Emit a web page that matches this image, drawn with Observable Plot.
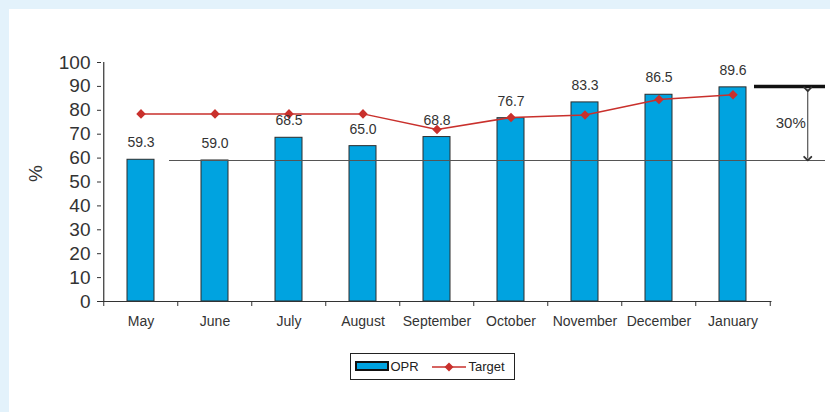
<!DOCTYPE html>
<html>
<head>
<meta charset="utf-8">
<script src="https://cdn.jsdelivr.net/npm/d3@7"></script>
<script src="https://cdn.jsdelivr.net/npm/@observablehq/plot@0.6"></script>
<style>
html, body { margin: 0; padding: 0; background: #e3f2fb; width: 830px; height: 412px; overflow: hidden; }
#panel { position: absolute; left: 9px; top: 9px; width: 821px; height: 403px; background: #fff;
  font-family: "Liberation Sans", Arial, Helvetica, sans-serif; color: #333; }
#chart svg { display: block; overflow: visible; }
#legend { position: absolute; left: 341px; top: 344px; width: 163px; height: 25px;
  border: 1.5px solid #222; font-size: 13px; color: #222; }
#legend .sw { position: absolute; left: 4px; top: 7px; width: 34px; height: 9.5px; box-sizing: border-box;
  border: 2px solid #111; background: #00a3e0; }
#legend .t { position: absolute; top: 0; line-height: 25px; }
#legend svg { position: absolute; left: 81px; top: 6.5px; }
</style>
</head>
<body>
<div id="panel">
  <div id="chart"></div>
  <div id="legend">
    <div class="sw"></div>
    <span class="t" style="left:39.5px">OPR</span>
    <svg width="34" height="12"><line x1="0" y1="6" x2="34" y2="6" stroke="#c9302c" stroke-width="1.5"/><path d="M17,1.5L21.5,6L17,10.5L12.5,6Z" fill="#c9302c"/></svg>
    <span class="t" style="left:117.5px">Target</span>
  </div>
</div>
<script>
const months = ["May", "June", "July", "August", "September", "October", "November", "December", "January"];
const opr = [59.3, 59.0, 68.5, 65.0, 68.8, 76.7, 83.3, 86.5, 89.6];
const target = [78.5, 78.5, 78.5, 78.5, 72.0, 77.0, 78.0, 84.5, 86.5];
const yTicks = [0, 10, 20, 30, 40, 50, 60, 70, 80, 90, 100];
const baselineLevel = 59;
const goalLevel = 90;
const gapLabel = "30%";
const yLabel = "%";

const data = months.map((m, i) => ({month: m, opr: opr[i], target: target[i]}));

const W = 821, H = 340, mL = 92, mR = 58.5;
const step = (W - mL - mR) / months.length;
const half = step / 2;
const lastMonth = months[months.length - 1];
const annX = 809 - 9 - (mL + step * (months.length - 0.5));

const red = "#c9302c";
const ink = "#333";

const chart = Plot.plot({
  width: W, height: H,
  marginLeft: mL, marginRight: mR, marginTop: 53, marginBottom: 48,
  style: {fontFamily: '"Liberation Sans", Arial, Helvetica, sans-serif', color: ink, background: "transparent", overflow: "visible"},
  x: {domain: months, paddingInner: 0.63, paddingOuter: 0.315},
  y: {domain: [0, 100]},
  marks: [
    Plot.barY(data, {x: "month", y: "opr", fill: "#00a3e0", stroke: "#2c2c2c", strokeWidth: 1}),
    Plot.ruleY([0], {stroke: ink, strokeWidth: 1.2}),
    Plot.ruleX([months[0]], {x: d => d, y1: 0, y2: 100, dx: -half, stroke: ink, strokeWidth: 1.2}),
    Plot.ruleX(months, {x: d => d, y1: 0, y2: 0, insetBottom: -5, dx: -half, stroke: ink}),
    Plot.ruleX([lastMonth], {x: d => d, y1: 0, y2: 0, insetBottom: -5, dx: half, stroke: ink}),
    Plot.axisY({ticks: yTicks, tickSize: 4, tickPadding: 7, fontSize: 19, tickFormat: d => String(d), label: null}),
    Plot.axisX({tickSize: 0, tickPadding: 15, fontSize: 14, label: null}),
    Plot.text([yLabel], {text: d => d, frameAnchor: "left", rotate: -90, dx: -66, fontSize: 19}),
    Plot.ruleY([baselineLevel], {stroke: "#555", strokeWidth: 1.2, insetLeft: 68, insetRight: -53.5}),
    Plot.ruleY([goalLevel], {stroke: "#111", strokeWidth: 3.5, insetLeft: 653, insetRight: -53.5}),
    Plot.link([{x: lastMonth, y1: goalLevel - 1.2, y2: baselineLevel + 0.8}], {x1: "x", x2: "x", y1: "y1", y2: "y2", dx: annX, stroke: "#333", strokeWidth: 1, markerStart: "arrow", markerEnd: "arrow"}),
    Plot.text([{x: lastMonth, y: (goalLevel + baselineLevel) / 2}], {x: "x", y: "y", text: () => gapLabel, dx: annX - 17, fontSize: 15}),
    Plot.line(data, {x: "month", y: "target", stroke: red, strokeWidth: 1.5}),
    Plot.dot(data, {x: "month", y: "target", symbol: "diamond2", r: 4.3, fill: red, stroke: "none"}),
    Plot.text(data, {x: "month", y: "opr", text: d => d.opr.toFixed(1), dy: -17, fontSize: 14})
  ]
});
d3.select(chart).selectAll("marker").attr("markerWidth", 12).attr("markerHeight", 12);
document.getElementById("chart").appendChild(chart);
</script>
</body>
</html>
